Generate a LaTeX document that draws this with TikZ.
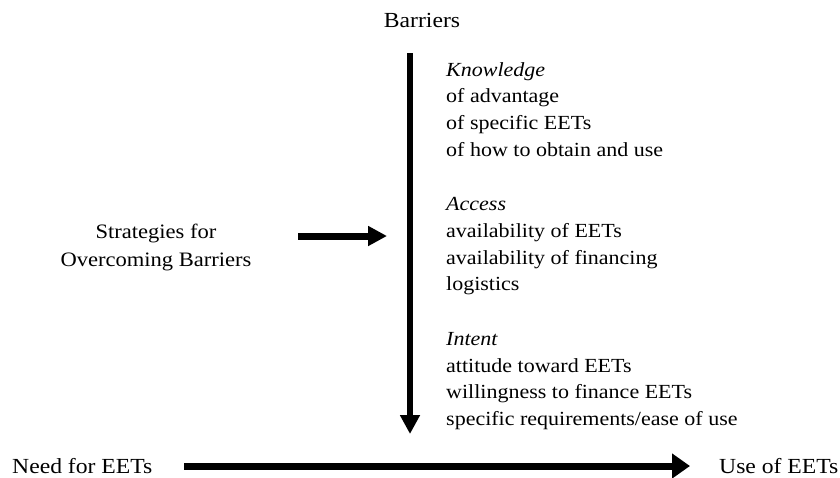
\documentclass[tikz,border=0pt]{standalone}
\usepackage{fontspec}
\setmainfont[FakeStretch=1.1]{Liberation Serif}
\usetikzlibrary{arrows.meta}
\begin{document}
\begin{tikzpicture}[x=1pt,y=-1pt,
  txt/.style={font=\fontsize{20}{26.8}\selectfont, inner sep=0pt},
  bigtxt/.style={font=\fontsize{21.5}{27}\selectfont, inner sep=0pt},
  col/.style={txt, anchor=north west, align=left},
  bigarrow/.style={line width=6pt, -{Triangle[length=19pt,width=19pt]}}]
\useasboundingbox (0,0) rectangle (840,477);
\node[bigtxt] (barriers) at (422,20) {Barriers};
\coordinate (vtop) at (410,53);
\coordinate (vbot) at (410,434);
\draw[bigarrow, line width=5.5pt] (vtop) -- (vbot);
\node[col] (know) at (446,62) {\textit{Knowledge}\\of advantage\\of specific EETs\\of how to obtain and use};
\node[col] (access) at (446,197) {\textit{Access}\\availability of EETs\\availability of financing\\logistics};
\node[col] (intent) at (446,332) {\textit{Intent}\\attitude toward EETs\\willingness to finance EETs\\specific requirements/ease of use};
\node[font=\fontsize{20.5}{28}\selectfont, inner sep=0pt, align=center] (strat) at (156,247) {Strategies for\\Overcoming Barriers};
\coordinate (ms) at (298,236);
\coordinate (me) at (387,236);
\draw[bigarrow, line width=7pt] (ms) -- (me);
\node[bigtxt, anchor=west] (need) at (12,466) {Need for EETs};
\node[bigtxt, anchor=west] (use) at (719,466) {Use of EETs};
\draw[bigarrow, line width=7pt, -{Triangle[length=18pt,width=24pt]}] (184,466) -- (690,466);
\end{tikzpicture}
\end{document}
